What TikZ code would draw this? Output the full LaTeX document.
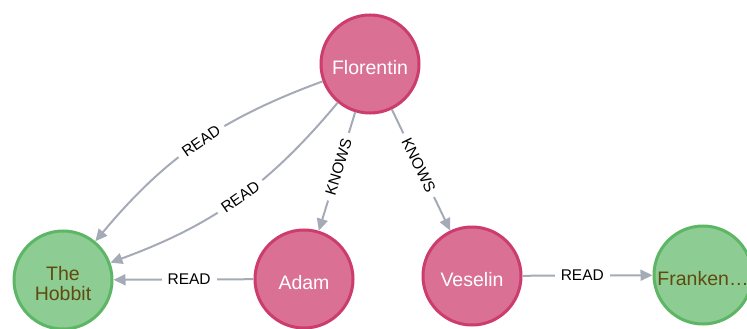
\documentclass[tikz,border=0pt]{standalone}
\usepackage{fontspec}
\setmainfont{Liberation Sans}
\usetikzlibrary{arrows.meta}

\definecolor{personfill}{HTML}{DA7194}
\definecolor{personline}{HTML}{CC3C6C}
\definecolor{bookfill}{HTML}{8DCC93}
\definecolor{bookline}{HTML}{5DB665}
\definecolor{booktext}{HTML}{604A0E}
\definecolor{relcolor}{HTML}{A5ABB6}

\newcommand\nodecapfont{\fontsize{19.5pt}{20pt}\selectfont}
\newcommand\edgecapfont{\fontsize{15.5pt}{17pt}\selectfont}

\begin{document}
\begin{tikzpicture}[x=1pt,y=-1pt,
  person/.style={circle, draw=personline, fill=personfill, line width=3pt,
    minimum size=98pt, inner sep=0pt},
  book/.style={circle, draw=bookline, fill=bookfill, line width=3pt,
    minimum size=98pt, inner sep=0pt},
  personcap/.style={text=white, font=\nodecapfont, yshift=-4pt},
  bookcap/.style={text=booktext, font=\nodecapfont, align=center, yshift=-4pt},
  rel/.style={draw=relcolor, line width=2pt,
    -{Triangle[length=12pt,width=11pt]}},
  rellabel/.style={fill=white, inner xsep=6pt, inner ysep=1pt,
    font=\edgecapfont, text=black}
]
\useasboundingbox (0,0) rectangle (747,329);

% people
\node[person, label={[personcap]center:Florentin}] (F) at (370,64) {};
\node[person, label={[personcap]center:Adam}] (A) at (304,279) {};
\node[person, label={[personcap]center:Veselin}] (V) at (472,276) {};

% books
\node[book, label={[bookcap]center:{The\\Hobbit}}] (H) at (63,280) {};
\node[book, label={[bookcap]center:Franken…}] (Fr) at (703,275) {};

% relationships
\draw[rel] (F) to[bend right=15]
  node[rellabel, pos=0.48, rotate=35] {READ} (H);
\draw[rel] (F) to[bend left=15]
  node[rellabel, pos=0.48, rotate=35] {READ} (H);
\draw[rel] (F) -- node[rellabel, pos=0.46, rotate=73] {KNOWS} (A);
\draw[rel] (F) -- node[rellabel, pos=0.46, rotate=-64] {KNOWS} (V);
\draw[rel] (A) -- node[rellabel, pos=0.46] {READ} (H);
\draw[rel] (V) -- node[rellabel, pos=0.46] {READ} (Fr);
\end{tikzpicture}
\end{document}
